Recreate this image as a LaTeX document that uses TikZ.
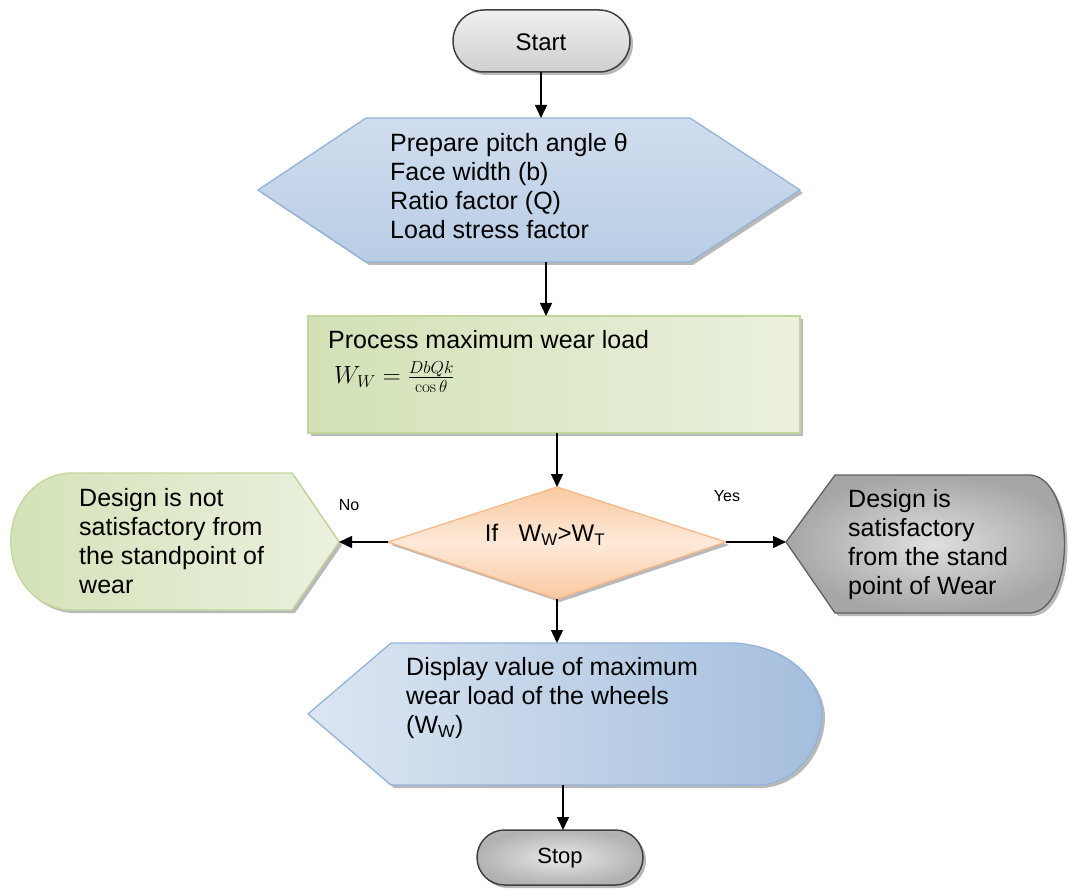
\documentclass[tikz,border=0pt]{standalone}
\usepackage[no-math]{fontspec}
\setmainfont{Liberation Sans}
\usetikzlibrary{arrows.meta,shadows}
\definecolor{termline}{HTML}{404040}
\definecolor{blueline}{HTML}{95B3D7}
\definecolor{bluetop}{HTML}{D0DDEE}
\definecolor{bluebot}{HTML}{B9CDE5}
\definecolor{greenline}{HTML}{C3D69B}
\definecolor{greendark}{HTML}{D2E1B6}
\definecolor{greenlight}{HTML}{EBF1DE}
\definecolor{peachline}{HTML}{F9B88A}
\definecolor{peachdark}{HTML}{FAC9A0}
\definecolor{peachlight}{HTML}{FDE9D9}
\definecolor{grayline}{HTML}{606060}
\definecolor{dispdark}{HTML}{A4BEDD}
\definecolor{displight}{HTML}{DCE6F2}
\tikzset{
  shad/.style={drop shadow={shadow xshift=3pt,shadow yshift=-3pt,fill=gray!55,opacity=1}},
  term/.style={draw=termline,line width=1.5pt,shad},
  txt/.style={font=\fontsize{25}{29}\selectfont,align=left,inner sep=0pt,text=black},
  lbl/.style={font=\fontsize{16}{19}\selectfont,inner sep=0pt},
  arr/.style={-{Triangle[length=13pt,width=12pt]},line width=1.4pt,black}
}
\begin{document}
\begin{tikzpicture}[x=1pt,y=-1pt]
\useasboundingbox (0,0) rectangle (1068,890);

% Start
\draw[term,rounded corners=31pt,top color=gray!12,bottom color=gray!38] (453,10) rectangle (630,72);
\node[txt,font=\fontsize{24}{28}\selectfont] (start) at (541,42) {Start};
\coordinate (startS) at (541,72);

% Preparation (hexagon)
\draw[draw=blueline,line width=1.3pt,shad,top color=bluetop,bottom color=bluebot]
  (366,118) -- (690,118) -- (800,190) -- (690,262) -- (366,262) -- (258,190) -- cycle;
\node[txt,anchor=west] (prep) at (390,186) {Prepare pitch angle θ\\Face width (b)\\Ratio factor (Q)\\Load stress factor};
\coordinate (prepN) at (541,118);
\coordinate (prepS) at (546,262);

% Process
\draw[draw=greenline,line width=1.3pt,shad,shading angle=135,left color=greendark,right color=greenlight]
  (308,316) rectangle (800,433);
\node[txt,anchor=base west] (proc) at (328,349) {Process maximum wear load};
\node[inner sep=0pt,anchor=west,font=\fontsize{27}{31}\selectfont] (formula) at (334,377) {$W_W=\frac{DbQk}{\cos\theta}$};
\coordinate (procN) at (546,316);
\coordinate (procS) at (557,433);

% Decision
\draw[draw=peachline,line width=1.3pt,shad,top color=peachdark,bottom color=peachdark,middle color=peachlight]
  (557,487) -- (726,542) -- (557,599) -- (388,542) -- cycle;
\node[txt,font=\fontsize{24}{28}\selectfont] (dec) at (545,535) {If\hspace{0.85em}W\textsubscript{W}>W\textsubscript{T}};
\coordinate (decN) at (557,487);
\coordinate (decW) at (388,542);
\coordinate (decE) at (726,542);
\coordinate (decS) at (557,599);

% Not satisfactory (left)
\draw[draw=greenline,line width=1.3pt,shad,shading angle=135,left color=greendark,right color=greenlight]
  (67,473) -- (292,473) -- (339,542) -- (292,610) -- (67,610) .. controls (-8,600) and (-8,483) .. cycle;
\node[txt,anchor=west] (notsat) at (79,541) {Design is not\\satisfactory from\\the standpoint of\\wear};
\coordinate (notsatE) at (339,542);

% Satisfactory (right)
\draw[draw=grayline,line width=1.3pt,shad,shading=radial,inner color=gray!25,outer color=gray!70]
  (786,542) -- (835,475) -- (1030,475) .. controls (1076,478) and (1076,610) .. (1030,613) -- (835,613) -- cycle;
\node[txt,anchor=west] (sat) at (848,545) {Design is\\satisfactory\\from the stand\\point of Wear};
\coordinate (satW) at (786,542);

% Display
\draw[draw=blueline,line width=1.3pt,shad,shading angle=45,left color=displight,right color=dispdark]
  (391,643) -- (735,643) .. controls (800,648) and (822,690) .. (822,714) .. controls (822,745) and (800,782) .. (760,785) -- (391,785) -- (308,714) -- cycle;
\node[txt,anchor=west] (disp) at (406,698) {Display value of maximum\\wear load of the wheels\\(W\textsubscript{W})};
\coordinate (dispN) at (557,643);
\coordinate (dispS) at (563,785);

% Stop
\draw[term,rounded corners=27.5pt,shading=radial,inner color=gray!18,outer color=gray!60] (477,830) rectangle (643,885);
\node[txt,font=\fontsize{22}{26}\selectfont] (stop) at (560,858) {Stop};
\coordinate (stopN) at (563,830);

% Connectors
\draw[arr] (startS) -- (prepN);
\draw[arr] (prepS) -- (procN);
\draw[arr] (procS) -- (decN);
\draw[arr] (decW) -- (notsatE);
\draw[arr] (decE) -- (satW);
\draw[arr] (decS) -- (dispN);
\draw[arr] (dispS) -- (stopN);

% Labels
\node[lbl] (no) at (349,505) {No};
\node[lbl] (yes) at (727,496) {Yes};
\end{tikzpicture}
\end{document}
